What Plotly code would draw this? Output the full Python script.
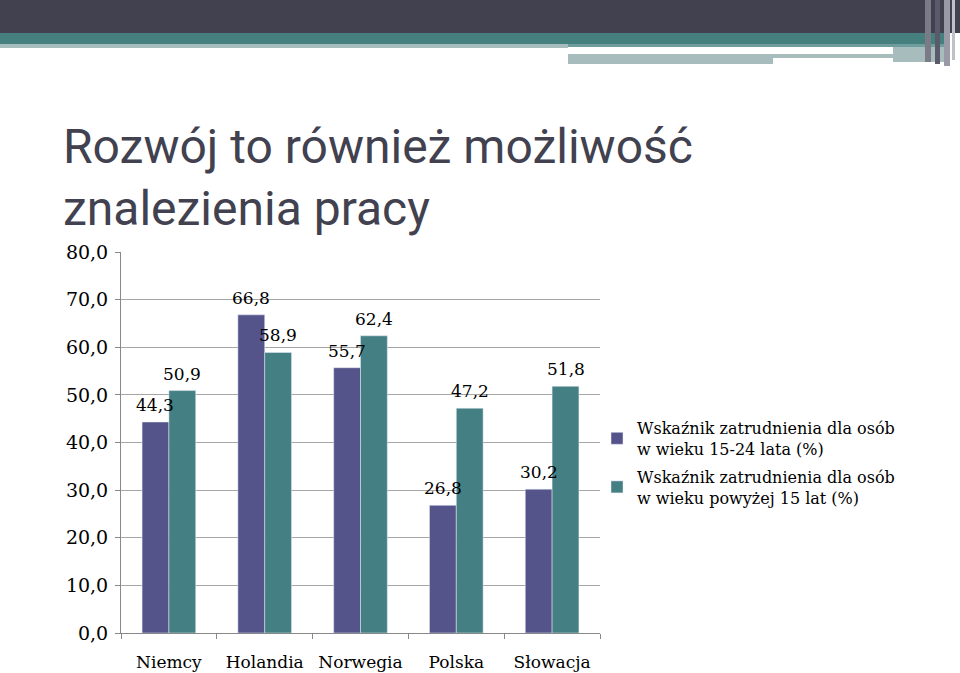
import plotly.graph_objects as go

categories = ["Niemcy", "Holandia", "Norwegia", "Polska", "Słowacja"]
series1_name = "Wskaźnik zatrudnienia dla osób<br>w wieku 15-24 lata (%)"
series2_name = "Wskaźnik zatrudnienia dla osób<br>w wieku powyżej 15 lat (%)"
series1 = [44.3, 66.8, 55.7, 26.8, 30.2]
series2 = [50.9, 58.9, 62.4, 47.2, 51.8]
y_ticks = [0, 10, 20, 30, 40, 50, 60, 70, 80]

def fmt(v):
    return f"{v:.1f}".replace(".", ",")

C1 = "#55548a"
C2 = "#447f83"
SERIF = "DejaVu Serif"

W, H = 960, 673
L, R, T, B = 121, 360, 252, 40
PW, PH = W - L - R, H - T - B

def px_x(p):
    return (p - L) / PW

def px_y(p):
    return (H - B - p) / PH

fig = go.Figure()
fig.add_bar(x=categories, y=series1, name=series1_name, marker_color=C1,
            legendgroup="a", offsetgroup="a")
fig.add_bar(x=categories, y=series2, name=series2_name, marker_color=C2,
            legendgroup="b", offsetgroup="b")

# value labels, placed through the data scales with a small pixel offset
annotations = []
for vals, dx in ((series1, -13.5), (series2, 13.5)):
    for cat, v in zip(categories, vals):
        annotations.append(dict(x=cat, y=v, xref="x", yref="y", text=fmt(v),
                                showarrow=False, xanchor="center", yanchor="bottom",
                                xshift=dx, yshift=5,
                                font=dict(family=SERIF, size=17, color="#000")))

shapes = []
def rect(x0, y0, x1, y1, color):
    shapes.append(dict(type="rect", xref="paper", yref="paper",
                       x0=px_x(x0), x1=px_x(x1), y0=px_y(y1), y1=px_y(y0),
                       fillcolor=color, line=dict(width=0), layer="below"))

rect(0, 0, 960, 33, "#41414f")
rect(0, 33, 945, 44, "#45807f")
rect(0, 44, 568, 48, "#a7bcbd")
rect(568, 44, 945, 47, "#6f9c9c")
rect(568, 54, 893, 58, "#a7bcbd")
rect(568, 58, 773, 64, "#a7bcbd")
rect(893, 47, 945, 62, "#a7bcbd")
rect(925, 0, 931, 62, "#7b7b88")
rect(935, 0, 940, 64, "#5a5a6a")
rect(944, 0, 950, 66, "#9a9aa6")
rect(952, 0, 955, 60, "#c0c0c8")

fig.update_layout(
    width=W, height=H,
    margin=dict(l=L, r=R, t=T, b=B, pad=0, autoexpand=False),
    paper_bgcolor="white", plot_bgcolor="white",
    separators=", ",
    barmode="group", bargap=0.44, bargroupgap=0,
    shapes=shapes,
    annotations=annotations,
    title=dict(text="Rozwój to również możliwość<br>znalezienia pracy",
               font=dict(family="Roboto", size=48, color="#41414f"),
               x=63 / W, xref="container", xanchor="left",
               y=1 - 163 / H, yref="container", yanchor="top"),
    legend=dict(x=px_x(597), y=px_y(411), xanchor="left", yanchor="top",
                font=dict(family=SERIF, size=16, color="#000"),
                itemwidth=30, tracegroupgap=4, bgcolor="rgba(0,0,0,0)"),
    showlegend=True,
)
fig.update_xaxes(type="category", showline=True, linecolor="#888888", linewidth=1,
                 ticks="outside", tickson="boundaries", ticklen=5, tickcolor="#888888",
                 ticklabelstandoff=14, automargin=False,
                 tickfont=dict(family=SERIF, size=17, color="#000"), showgrid=False)
fig.update_yaxes(range=[0, 80], tickvals=y_ticks, ticktext=[fmt(v) for v in y_ticks],
                 showline=True, linecolor="#888888", linewidth=1,
                 ticks="outside", ticklen=5, tickcolor="#888888",
                 ticklabelstandoff=3, automargin=False,
                 showgrid=True, gridcolor="#a6a6a6", gridwidth=1, zeroline=False,
                 tickfont=dict(family=SERIF, size=19, color="#000"))

fig.write_html("out.html")
